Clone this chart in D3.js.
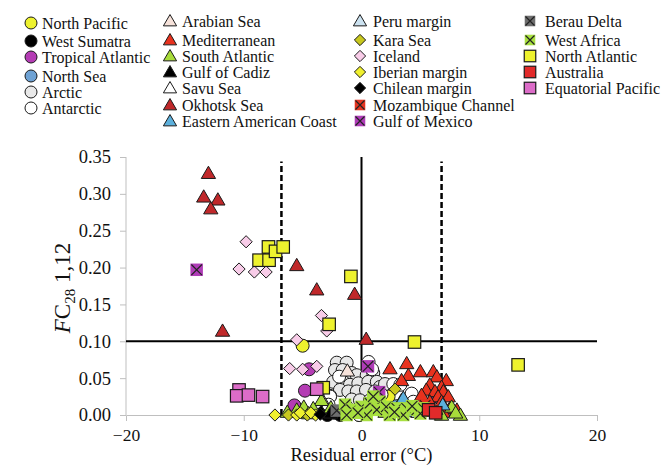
<!DOCTYPE html>
<html><head><meta charset="utf-8">
<script src="https://cdn.jsdelivr.net/npm/d3@7"></script>
<style>body{margin:0;background:#fff}svg{display:block}</style>
</head><body>
<svg id="c" width="664" height="465"></svg>
<script>
// ---- data ----
const xTicks = [-20, -10, 0, 10, 20];
const yTicks = [0, 0.05, 0.10, 0.15, 0.20, 0.25, 0.30, 0.35];
const thresholdF = 0.10;
const thresholdErr = [-6.8, 6.8];

const northPacific = [[-5.0,0.094],[2.3,0.025]];
const westSumatra = [[-3.2,0.004],[-2.3,0.003],[-1.8,0.0],[-2.9,0.0]];
const tropicalAtlantic = [[-4.45,0.062],[-4.8,0.033],[-5.7,0.013],[6.1,0.016]];
const northSea = [[3.0,0.012],[4.3,0.006]];
const arctic = [[-2.1,0.071],[-1.26,0.071],[-2.25,0.061],[-1.6,0.061],[-0.83,0.057],[-0.4,0.054],[0.44,0.054],[1.0,0.057],
  [-2.4,0.045],[-1.55,0.045],[-0.98,0.041],[-0.27,0.043],[0.58,0.045],[1.3,0.045],[1.57,0.038],[-1.83,0.034],[-1.12,0.032],
  [-0.4,0.032],[0.38,0.034],[1.15,0.032],[-2.67,0.026],[-0.83,0.021],[-0.13,0.020],[0.72,0.020],[-0.19,0.0],[2.0,0.042]];
const antarctic = [[0.6,0.072],[0.9,0.062],[2.7,0.042],[3.3,0.041],[4.1,0.023],[5.0,0.018],[-2.67,0.025],[-2.8,0.014],
  [-0.2,0.0],[4.26,0.029],[4.4,0.018],[-1.9,0.052],[1.7,0.028],[-1.3,0.012]];
const arabianSea = [[-1.2,0.060],[-3.3,0.020]];
const mediterranean = [[2.42,0.063],[3.84,0.070],[3.98,0.054],[5.0,0.059],[6.1,0.059],[6.4,0.052],[7.2,0.047],[3.4,0.047],
  [5.8,0.041],[6.8,0.038],[5.5,0.034],[6.24,0.032],[6.95,0.032],[5.1,0.027],[6.5,0.025],[7.37,0.025],[5.8,0.018],[6.8,0.018],
  [7.5,0.009],[8.1,0.007],[4.7,0.011],[6.95,0.004]];
const southAtlantic = [[-3.4,0.020],[-4.1,0.009],[-4.9,0.004],[-4.9,0.011],[7.66,0.011],[6.8,0.0],[8.4,0.0],[8.0,0.003],
  [-6.3,0.004],[-5.5,0.007],[-4.5,0.002],[-2.6,0.010],[0.9,0.018],[2.0,0.004]];
const gulfOfCadiz = [[-2.6,0.003]];
const savuSea = [[-0.9,0.004]];
const okhotsk = [[-13.0,0.328],[-13.4,0.296],[-12.2,0.292],[-12.8,0.280],[-11.8,0.114],[-5.5,0.203],[-3.8,0.170],[-0.58,0.164],[0.4,0.103]];
const easternAmerican = [[3.4,0.020],[5.65,0.009],[6.9,0.014],[3.55,0.023],[2.6,0.008]];
const peruMargin = [[4.8,0.004],[6.3,0.008]];
const karaSea = [[2.85,0.035],[-6.2,0.0],[-4.6,0.0]];
const iceland = [[-9.8,0.235],[-10.4,0.198],[-9.1,0.194],[-8.1,0.194],[-3.4,0.135],[-2.95,0.114],[-5.5,0.102],[-6.1,0.063],[-5.0,0.062],[-3.8,0.066]];
const iberian = [[-7.35,0.0],[-5.5,0.0],[-5.2,0.003],[-3.9,0.0],[-4.3,0.003]];
const chilean = [[-3.5,0.001]];
const mozambique = [[5.4,0.013],[6.0,0.006]];
const gulfOfMexico = [[-14.0,0.197],[0.55,0.066],[1.5,0.031]];
const berauDelta = [[-2.1,0.006]];
const westAfrica = [[-1.4,0.014],[-0.83,0.007],[0.0,0.011],[0.72,0.016],[1.57,0.018],[1.3,0.007],[2.1,0.011],[3.0,0.009],
  [3.84,0.009],[4.7,0.007],[5.25,0.009],[-1.26,0.0],[0.44,0.0],[2.4,0.0],[3.55,0.0],[5.0,0.002],[1.0,0.025],[-0.3,0.003],[2.8,0.004],[4.3,0.012]];
const northAtlantic = [[-7.9,0.228],[-8.7,0.210],[-7.85,0.210],[-7.3,0.222],[-6.65,0.228],[-0.9,0.188],[-2.75,0.123],[4.5,0.099],[13.3,0.068],[-3.25,0.037]];
const australia = [[5.7,0.007],[6.3,0.003]];
const equatorialPacific = [[-10.4,0.034],[-10.6,0.026],[-9.6,0.027],[-8.4,0.025],[-3.8,0.035]];

// legend: [name, shape, fill, data, column, row]
const series = [
  ["North Pacific","circle","#eef22e",northPacific,0,0],
  ["West Sumatra","circle","#000000",westSumatra,0,1],
  ["Tropical Atlantic","circle","#b43cb4",tropicalAtlantic,0,2],
  ["North Sea","circle","#6ea2d4",northSea,0,3],
  ["Arctic","circle","#e8e8e8",arctic,0,4],
  ["Antarctic","circle","#ffffff",antarctic,0,5],
  ["Arabian Sea","triangle","#f6e2da",arabianSea,1,0],
  ["Mediterranean","triangle","#e8321e",mediterranean,1,1],
  ["South Atlantic","triangle","#a8dc3a",southAtlantic,1,2],
  ["Gulf of Cadiz","triangle","#000000",gulfOfCadiz,1,3],
  ["Savu Sea","triangle","#ffffff",savuSea,1,4],
  ["Okhotsk Sea","triangle","#c0282a",okhotsk,1,5],
  ["Eastern American Coast","triangle","#5cb0dc",easternAmerican,1,6],
  ["Peru margin","triangle","#cce2f0",peruMargin,2,0],
  ["Kara Sea","diamond","#c8c81e",karaSea,2,1],
  ["Iceland","diamond","#f8cce8",iceland,2,2],
  ["Iberian margin","diamond","#f0f02e",iberian,2,3],
  ["Chilean margin","diamond","#000000",chilean,2,4],
  ["Mozambique Channel","xsquare","#e43420",mozambique,2,5],
  ["Gulf of Mexico","xsquare","#b03cb8",gulfOfMexico,2,6],
  ["Berau Delta","xsquare","#6e6e6e",berauDelta,3,0],
  ["West Africa","xsquare","#a8e040",westAfrica,3,1],
  ["North Atlantic","square","#eef22e",northAtlantic,3,2],
  ["Australia","square","#e22a2a",australia,3,3],
  ["Equatorial Pacific","square","#dc6cc8",equatorialPacific,3,4]
];

// ---- layout ----
const SERIF = "'Liberation Serif', 'Times New Roman', 'DejaVu Serif', serif";
const svg = d3.select("#c");
const x = d3.scaleLinear().domain([-20,20]).range([126,597]);
const y = d3.scaleLinear().domain([0,0.35]).range([415,157]);
const gray = "#bfbfbf";

// axes
const gx = svg.append("g").attr("transform","translate(0,415)")
  .call(d3.axisBottom(x).tickValues(xTicks).tickSize(6).tickFormat(d3.format("d")));
gx.select(".domain").attr("stroke",gray);
gx.selectAll(".tick line").attr("stroke",gray);
gx.selectAll(".tick text").attr("y",26).attr("dy",null).style("font-size","17.5px").style("font-family",SERIF).attr("fill","#111");
gx.selectAll(".tick").filter(d=>d===-20).select("line").remove();

const gy = svg.append("g").attr("transform","translate(126,0)")
  .call(d3.axisLeft(y).tickValues(yTicks).tickSize(6).tickFormat(d3.format(".2f")));
gy.select(".domain").attr("stroke",gray).attr("d","M0,"+y(0.35)+"V"+y(0));
gy.selectAll(".tick line").attr("stroke",gray);
gy.selectAll(".tick text").attr("x",-15).style("font-size","18.5px").style("font-family",SERIF).attr("fill","#111");

// reference lines
svg.append("line").attr("x1",x(-20)).attr("x2",x(20)).attr("y1",y(thresholdF)).attr("y2",y(thresholdF))
  .attr("stroke","#000").attr("stroke-width",2);
svg.append("line").attr("x1",x(0)).attr("x2",x(0)).attr("y1",y(0)).attr("y2",y(0.35))
  .attr("stroke","#000").attr("stroke-width",2);
thresholdErr.forEach(v=>{
  svg.append("line").attr("x1",x(v)).attr("x2",x(v)).attr("y1",y(0)).attr("y2",y(0.344))
    .attr("stroke","#000").attr("stroke-width",2.5).attr("stroke-dasharray","6,3");
});

// symbols
function drawSym(g, shape, fill, cx, cy, s){
  const st = "#1a1a1a";
  if(shape==="circle"){
    g.append("circle").attr("cx",cx).attr("cy",cy).attr("r",s*0.5).attr("fill",fill).attr("stroke",st).attr("stroke-width",1);
  } else if(shape==="triangle"){
    const h=s*0.9, w=s*0.55;
    g.append("path").attr("d",`M${cx},${cy-h*0.6}L${cx+w},${cy+h*0.45}L${cx-w},${cy+h*0.45}Z`).attr("fill",fill).attr("stroke",st).attr("stroke-width",1);
  } else if(shape==="diamond"){
    const r=s*0.47;
    g.append("path").attr("d",`M${cx},${cy-r}L${cx+r},${cy}L${cx},${cy+r}L${cx-r},${cy}Z`).attr("fill",fill).attr("stroke",st).attr("stroke-width",1);
  } else if(shape==="square"){
    const r=s*0.48;
    g.append("rect").attr("x",cx-r).attr("y",cy-r).attr("width",2*r).attr("height",2*r).attr("fill",fill).attr("stroke",st).attr("stroke-width",1.2);
  } else if(shape==="xsquare"){
    const r=s*0.48;
    g.append("rect").attr("x",cx-r).attr("y",cy-r).attr("width",2*r).attr("height",2*r).attr("fill",fill).attr("stroke","none");
    const q=r*0.85;
    g.append("path").attr("d",`M${cx-q},${cy-q}L${cx+q},${cy+q}M${cx+q},${cy-q}L${cx-q},${cy+q}`).attr("stroke","#222").attr("stroke-width",1.2);
  }
}

const marks = svg.append("g");
series.forEach(([name,shape,fill,data])=>{
  data.forEach(([dx,dy])=> drawSym(marks, shape, fill, x(dx), y(dy), 13));
});

// legend
const colSym = [31,170,360,530];
const colTxt = [42,182,373,545];
const rowsY = [[23,41,57,76,92,108],[21,40,56,72,88,105,121],[21,40,56,72,88,105,121],[21,40,56,72,88]];
const leg = svg.append("g");
series.forEach(([name,shape,fill,data,c,r])=>{
  const cy = rowsY[c][r];
  drawSym(leg, shape, fill, colSym[c], cy, shape==="xsquare"?11:12);
  leg.append("text").attr("x",colTxt[c]).attr("y",cy+5.5).style("font-size","16px").style("font-family",SERIF).attr("fill","#111").text(name);
});

// axis titles
svg.append("text").attr("x",x(0)).attr("y",461).attr("text-anchor","middle").style("font-size","18.5px").style("font-family",SERIF).attr("fill","#111")
  .text("Residual error (°C)");
const yt = svg.append("text").attr("transform","translate(70,288) rotate(-90)").attr("text-anchor","middle")
  .style("font-size","23px").style("font-family",SERIF).attr("fill","#111");
yt.append("tspan").style("font-style","italic").text("F");
yt.append("tspan").text("C");
yt.append("tspan").style("font-size","15px").attr("dy",5).text("28");
yt.append("tspan").attr("dy",-5).text(" 1,12");
</script>
</body></html>
